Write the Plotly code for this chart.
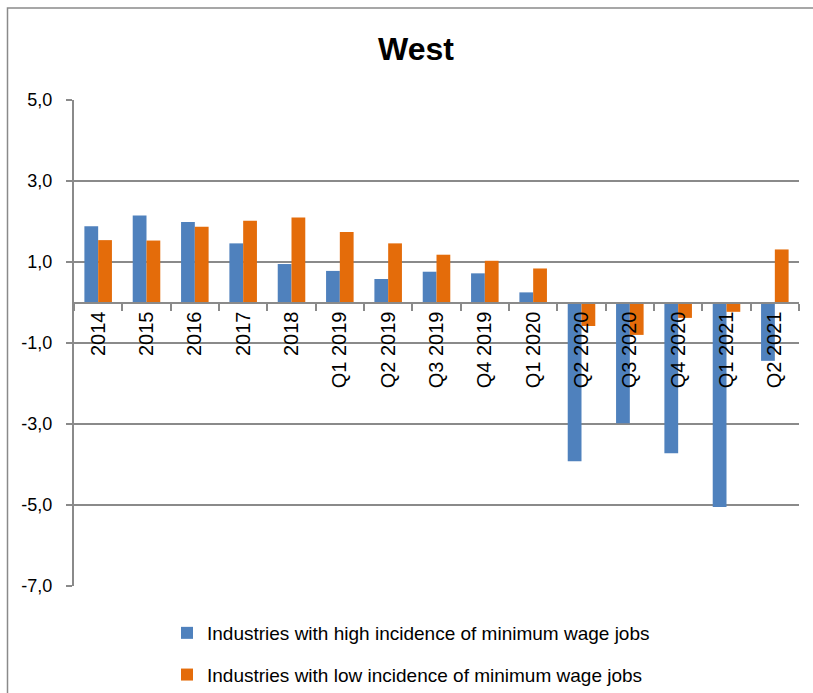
import plotly.graph_objects as go

# Quarterly / annual employment change (%) by industry group, West region
periods = ["2014", "2015", "2016", "2017", "2018",
           "Q1 2019", "Q2 2019", "Q3 2019", "Q4 2019", "Q1 2020",
           "Q2 2020", "Q3 2020", "Q4 2020", "Q1 2021", "Q2 2021"]
high_incidence = [1.88, 2.15, 1.99, 1.46, 0.95,
                  0.78, 0.58, 0.76, 0.72, 0.25,
                  -3.92, -2.98, -3.72, -5.05, -1.44]
low_incidence = [1.54, 1.53, 1.87, 2.02, 2.10,
                 1.74, 1.46, 1.18, 1.03, 0.84,
                 -0.58, -0.80, -0.38, -0.23, 1.31]
y_ticks = [5, 3, 1, -1, -3, -5, -7]
y_tick_labels = ["5,0", "3,0", "1,0", "-1,0", "-3,0", "-5,0", "-7,0"]

BLUE = "#4F81BD"
ORANGE = "#E46C0A"
GREY = "#8a8a8a"
FONT = "Liberation Sans, Arial, sans-serif"

W, H = 813, 693
L, R, T, B = 74, 14, 100, 107
plot_w = W - L - R
plot_h = H - T - B
y_min, y_max = -7, 5

fig = go.Figure()
fig.add_trace(go.Bar(
    x=periods, y=high_incidence,
    name="Industries with high incidence of minimum wage jobs",
    marker=dict(color=BLUE, line=dict(width=0)),
    legendgroup="high",
))
fig.add_trace(go.Bar(
    x=periods, y=low_incidence,
    name="Industries with low incidence of minimum wage jobs",
    marker=dict(color=ORANGE, line=dict(width=0)),
    legendgroup="low",
))

def px_x(px):
    return (px - L) / plot_w

def px_y(py):
    return (H - B - py) / plot_h

# outer chart frame
fig.add_shape(type="rect", xref="paper", yref="paper",
              x0=px_x(7.5), x1=px_x(830), y0=px_y(710), y1=px_y(8),
              line=dict(color=GREY, width=1.5), fillcolor="rgba(0,0,0,0)",
              layer="below")

fig.update_layout(
    width=W, height=H,
    margin=dict(l=L, r=R, t=T, b=B, autoexpand=False),
    paper_bgcolor="white", plot_bgcolor="white",
    barmode="group", bargap=0.43, bargroupgap=0,
    title=dict(text="<b>West</b>", x=416 / W, xanchor="center",
               y=1 - 49 / H, yanchor="middle",
               font=dict(family=FONT, size=32, color="black")),
    showlegend=True,
    legend=dict(orientation="v", x=px_x(167), xanchor="left",
                y=px_y(614), yanchor="top",
                font=dict(family=FONT, size=19, color="black"),
                tracegroupgap=14, traceorder="grouped",
                bgcolor="rgba(0,0,0,0)"),
    xaxis=dict(
        type="category", anchor="free",
        position=(0 - y_min) / (y_max - y_min),
        tickangle=-90, tickson="boundaries",
        ticks="outside", ticklen=7, tickcolor=GREY, tickwidth=1.5,
        showline=True, linecolor=GREY, linewidth=2,
        showgrid=False, zeroline=False,
        tickfont=dict(family=FONT, size=20, color="black"),
        layer="above traces",
    ),
    yaxis=dict(
        range=[y_min, y_max], tickvals=y_ticks, ticktext=y_tick_labels,
        showgrid=True, gridcolor=GREY, gridwidth=2,
        zeroline=False,
        showline=True, linecolor=GREY, linewidth=2,
        ticks="outside", ticklen=6, tickcolor=GREY, tickwidth=2,
        ticklabelstandoff=10,
        tickfont=dict(family=FONT, size=18, color="black"),
    ),
)

fig.write_html("out.html")
